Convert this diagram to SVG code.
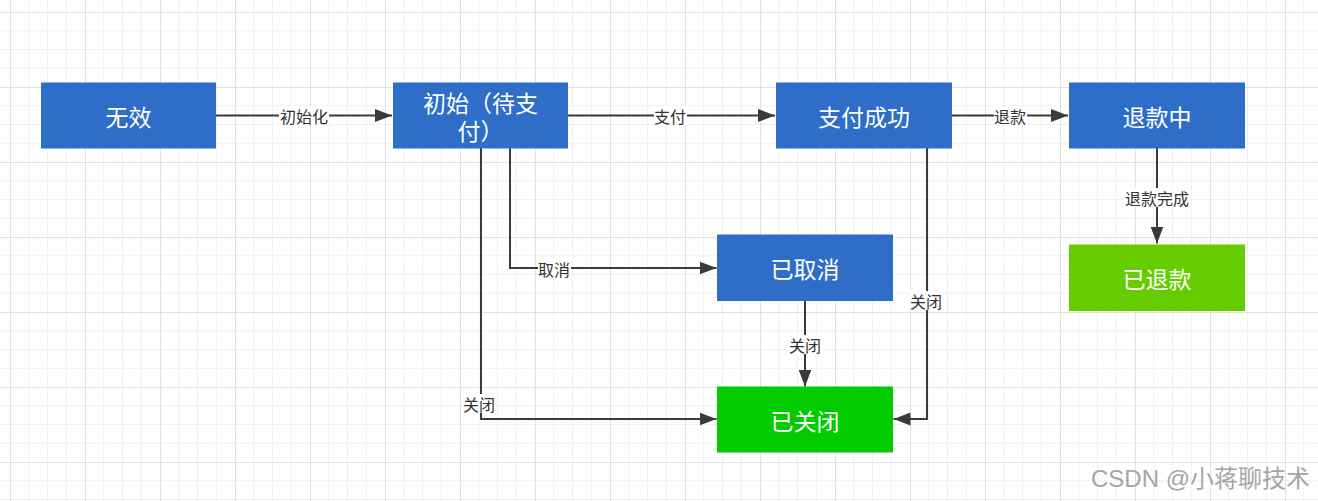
<svg xmlns="http://www.w3.org/2000/svg" width="1318" height="501" viewBox="0 0 1318 501">
<style>
.node rect{stroke:none}
.blue{fill:#2E6EC8}
.green{fill:#00CC00}
.lgreen{fill:#66CC00}
.nt{font-family:"Noto Sans CJK SC","Microsoft YaHei",sans-serif;font-size:23px;fill:#ffffff;text-anchor:middle;dominant-baseline:central}
.edge{fill:none;stroke:#3a3a3a;stroke-width:2}
.lbg{fill:#ffffff}
.lt{font-family:"Noto Sans CJK SC","Microsoft YaHei",sans-serif;font-size:16px;fill:#333333;text-anchor:middle;dominant-baseline:central}
.wm{font-family:"Liberation Sans","Noto Sans CJK SC",sans-serif;font-size:24px;fill:#a6a6a6}
</style>
<defs>
<pattern id="grid" x="10" y="12" width="75" height="75" patternUnits="userSpaceOnUse">
<path d="M18.75 0V75M37.5 0V75M56.25 0V75M0 18.75H75M0 37.5H75M0 56.25H75" stroke="#f0f0f0" stroke-width="1" fill="none"/>
<path d="M0.5 0V75M0 0.5H75" stroke="#e2e2e2" stroke-width="1" fill="none"/>
</pattern>
<marker id="arr" markerWidth="18" markerHeight="14" refX="17" refY="7" orient="auto" markerUnits="userSpaceOnUse">
<path d="M0 0.5L17 7L0 13.5Z" fill="#3a3a3a"/>
</marker>
</defs>
<rect x="0" y="0" width="1318" height="501" fill="#ffffff"/>
<rect x="0" y="0" width="1318" height="501" fill="url(#grid)"/>

<g id="connectors">
<g id="e1"><path class="edge" d="M216 115.5H392" marker-end="url(#arr)"/><rect class="lbg" x="279" y="106" width="50" height="19"/><text class="lt" x="304" y="115.5">初始化</text></g>
<g id="e2"><path class="edge" d="M568 115.5H775" marker-end="url(#arr)"/><rect class="lbg" x="654" y="106" width="33" height="19"/><text class="lt" x="670" y="115.5">支付</text></g>
<g id="e3"><path class="edge" d="M952 115.5H1068" marker-end="url(#arr)"/><rect class="lbg" x="994" y="106" width="33" height="19"/><text class="lt" x="1010" y="115.5">退款</text></g>
<g id="e4"><path class="edge" d="M1157 148V243.5" marker-end="url(#arr)"/><rect class="lbg" x="1124" y="188" width="66" height="19"/><text class="lt" x="1157" y="197.5">退款完成</text></g>
<g id="e5"><path class="edge" d="M510 148V268H716.5" marker-end="url(#arr)"/><rect class="lbg" x="538" y="259" width="33" height="19"/><text class="lt" x="554" y="268.5">取消</text></g>
<g id="e6"><path class="edge" d="M481 148V419H716.5" marker-end="url(#arr)"/><rect class="lbg" x="463" y="394" width="33" height="19"/><text class="lt" x="479" y="403.5">关闭</text></g>
<g id="e7"><path class="edge" d="M805 301V386.5" marker-end="url(#arr)"/><rect class="lbg" x="789" y="335" width="33" height="19"/><text class="lt" x="805" y="344.5">关闭</text></g>
<g id="e8"><path class="edge" d="M927 148V419H893.5" marker-end="url(#arr)"/><rect class="lbg" x="910" y="291" width="33" height="19"/><text class="lt" x="926" y="300.5">关闭</text></g>
</g>

<g id="n-wuxiao" class="node"><rect class="blue" x="41" y="82.5" width="175" height="66"/><text class="nt" x="128.5" y="115.5">无效</text></g>
<g id="n-chushi" class="node"><rect class="blue" x="393" y="82.5" width="175" height="66"/><text class="nt" x="480.5" y="102"><tspan x="480.5">初始（待支</tspan><tspan x="480.5" dy="28">付）</tspan></text></g>
<g id="n-zhifu" class="node"><rect class="blue" x="776" y="82.5" width="176" height="66"/><text class="nt" x="864" y="115.5">支付成功</text></g>
<g id="n-tuikuanzhong" class="node"><rect class="blue" x="1069" y="82.5" width="176" height="66"/><text class="nt" x="1157" y="115.5">退款中</text></g>
<g id="n-quxiao" class="node"><rect class="blue" x="717" y="234.5" width="176" height="66.5"/><text class="nt" x="805" y="268">已取消</text></g>
<g id="n-guanbi" class="node"><rect class="green" x="717" y="386.5" width="176" height="66"/><text class="nt" x="805" y="419.5">已关闭</text></g>
<g id="n-yituikuan" class="node"><rect class="lgreen" x="1069" y="244.5" width="176" height="66.5"/><text class="nt" x="1157" y="278">已退款</text></g>

<text class="wm" x="1091" y="487">CSDN @小蒋聊技术</text>
</svg>
